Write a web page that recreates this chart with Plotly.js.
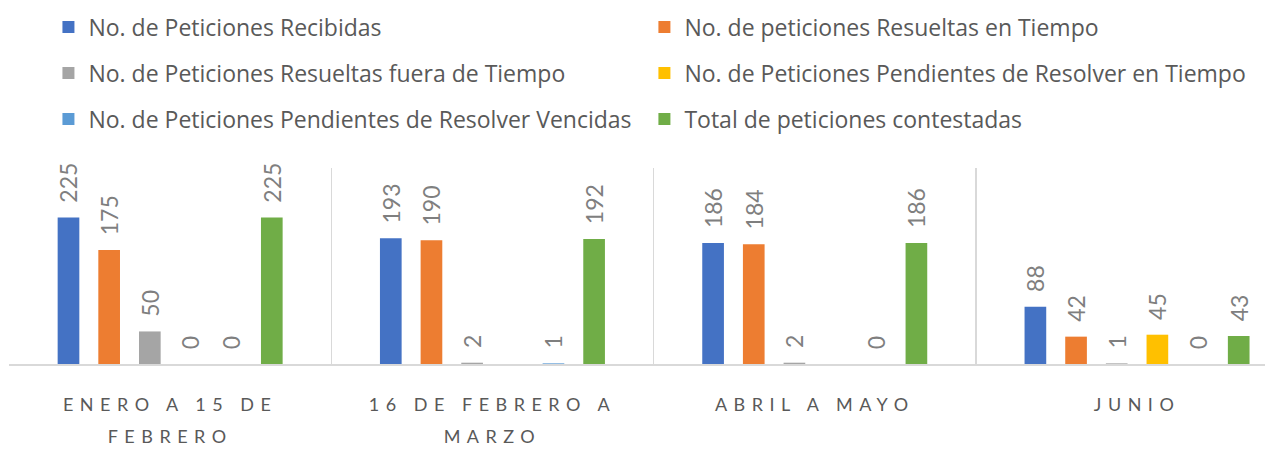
<!DOCTYPE html>
<html>
<head>
<meta charset="utf-8">
<script src="https://cdn.plot.ly/plotly-3.0.1.min.js"></script>
<style>
html,body{margin:0;padding:0;background:#fff;}
.xaxislayer-above .xtick text{letter-spacing:6.5px;}
</style>
</head>
<body>
<div id="chart" style="width:1265px;height:449px;"></div>
<script>
var categories = ["ENERO A 15 DE FEBRERO", "16 DE FEBRERO A MARZO", "ABRIL A MAYO", "JUNIO"];
var tickLabels = ["ENERO A 15 DE<br>FEBRERO", "16 DE FEBRERO A<br>MARZO", "ABRIL A MAYO", "JUNIO"];
var seriesNames = [
  "No. de Peticiones Recibidas",
  "No. de peticiones Resueltas en Tiempo",
  "No. de Peticiones Resueltas fuera de Tiempo",
  "No. de Peticiones Pendientes de Resolver en Tiempo",
  "No. de Peticiones Pendientes de Resolver Vencidas",
  "Total de peticiones contestadas"
];
var recibidas = [225, 193, 186, 88];
var resueltasTiempo = [175, 190, 184, 42];
var resueltasFuera = [50, 2, 2, 1];
var pendientesTiempo = [0, null, null, 45];
var pendientesVencidas = [0, 1, 0, 0];
var totalContestadas = [225, 192, 186, 43];

var seriesValues = [recibidas, resueltasTiempo, resueltasFuera, pendientesTiempo, pendientesVencidas, totalContestadas];
var colors = ["#4472C4", "#ED7D31", "#A5A5A5", "#FFC000", "#5B9BD5", "#70AD47"];
var legendIds = ["legend", "legend2", "legend3", "legend4", "legend5", "legend6"];

var traces = seriesValues.map(function (vals, i) {
  return {
    type: "bar",
    name: seriesNames[i],
    x: categories,
    y: vals,
    marker: {color: colors[i]},
    text: vals.map(function (v) { return v === null ? "" : "\u00a0\u00a0" + v; }),
    textposition: "outside",
    textangle: -90,
    constraintext: "none",
    cliponaxis: false,
    textfont: {family: "Lato", size: 23, color: "#7f7f7f"},
    hoverinfo: "none",
    legend: legendIds[i]
  };
});

var legendRowsY = [1.719, 1.485, 1.25];
var legendColsX = [0.0314, 0.5059];

function legendFor(i) {
  return {
    orientation: "h",
    x: legendColsX[i % 2], xanchor: "left",
    y: legendRowsY[Math.floor(i / 2)], yanchor: "middle",
    font: {family: "Open Sans", size: 23, color: "#595959"},
    bgcolor: "rgba(0,0,0,0)"
  };
}

var layout = {
  width: 1265, height: 449,
  margin: {l: 9, r: 0, t: 168, b: 85},
  paper_bgcolor: "#ffffff",
  plot_bgcolor: "#ffffff",
  barmode: "group",
  bargap: 0.243,
  bargroupgap: 0.467,
  showlegend: true,
  xaxis: {
    type: "category",
    range: [-0.5, 3.397],
    tickmode: "array",
    tickvals: categories,
    ticktext: tickLabels.map(function (t) { return '<span style="font-size:18px">' + t + '</span>'; }),
    tickson: "boundaries",
    ticks: "",
    showgrid: true,
    gridcolor: "#d9d9d9",
    gridwidth: 1.5,
    showline: true,
    linecolor: "#d9d9d9",
    linewidth: 1.5,
    tickfont: {family: "Lato", size: 24, color: "#595959"},
    ticklabelstandoff: 17,
    fixedrange: true
  },
  yaxis: {
    range: [0, 301],
    visible: false,
    showgrid: false,
    zeroline: false,
    fixedrange: true
  }
};
legendIds.forEach(function (id, i) { layout[id] = legendFor(i); });

Plotly.newPlot("chart", traces, layout, {displayModeBar: false, staticPlot: true});
</script>
</body>
</html>
